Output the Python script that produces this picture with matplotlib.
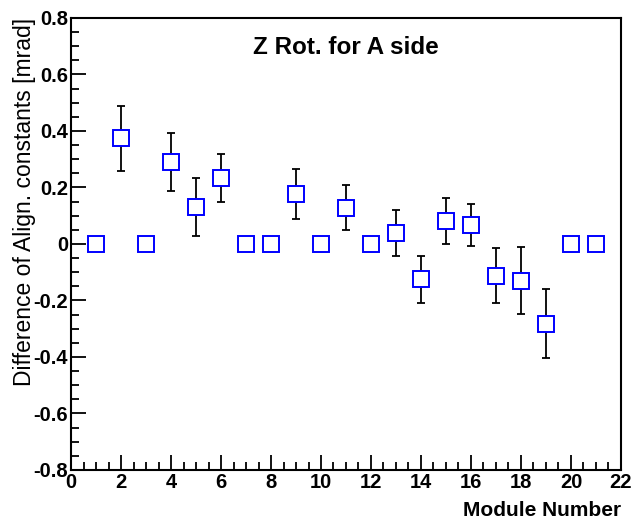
import numpy as np
import matplotlib.pyplot as plt
from matplotlib.ticker import MultipleLocator

plt.rcParams['font.family'] = ['Liberation Sans', 'DejaVu Sans']

# modules without a fit (value 0, no error)
mod_zero = [1, 3, 7, 8, 10, 12, 20, 21]
val_zero = [0, 0, 0, 0, 0, 0, 0, 0]

# modules with a difference and error
mod = [2, 4, 5, 6, 9, 11, 13, 14, 15, 16, 17, 18, 19]
diff = [0.375, 0.289, 0.132, 0.235, 0.176, 0.128, 0.039, -0.125, 0.081, 0.068, -0.112, -0.130, -0.282]
err = [0.115, 0.103, 0.103, 0.085, 0.089, 0.080, 0.083, 0.083, 0.081, 0.075, 0.097, 0.119, 0.121]
ytick_labels = ['-0.8', '-0.6', '-0.4', '-0.2', '0', '0.2', '0.4', '0.6', '0.8']

fig = plt.figure(figsize=(6.33, 5.2), dpi=100)
ax = fig.add_axes([0.1122, 0.0962, 0.8688, 0.8692])

ax.errorbar(mod, diff, yerr=err, fmt='none', ecolor='black', elinewidth=1.3,
            capsize=3, capthick=1.3, zorder=2)
ax.plot(mod, diff, 's', ms=11.5, mfc='white', mec='blue', mew=1.4, zorder=3)
ax.plot(mod_zero, val_zero, 's', ms=11.5, mfc='white', mec='blue', mew=1.4, zorder=3)

ax.set_xlim(0, 22)
ax.set_ylim(-0.8, 0.8)
ax.xaxis.set_major_locator(MultipleLocator(2))
ax.xaxis.set_minor_locator(MultipleLocator(0.5))
ax.yaxis.set_minor_locator(MultipleLocator(0.05))
ax.set_yticks(np.linspace(-0.8, 0.8, 9))
ax.set_yticklabels(ytick_labels)

ax.tick_params(which='both', direction='in', top=False, right=False,
               labelsize=14.5, width=1.3)
ax.tick_params(which='major', length=11, pad=2)
ax.tick_params(which='minor', length=5.5)
for lab in ax.get_xticklabels() + ax.get_yticklabels():
    lab.set_fontweight('bold')
for s in ax.spines.values():
    s.set_linewidth(1.5)

fig.text(621 / 633, 1 - 516 / 520, 'Module Number', ha='right', va='baseline',
         fontsize=15, fontweight='bold')
fig.text(25 / 633, 1 - 18 / 520, 'Difference of Align. constants [mrad]',
         rotation=90, ha='center', va='top', fontsize=16.5)
fig.text(346 / 633, 1 - 54 / 520, 'Z Rot. for A side', ha='center', va='baseline',
         fontsize=17.5, fontweight='bold')

fig.savefig('out.png', dpi=100)
plt.close()
